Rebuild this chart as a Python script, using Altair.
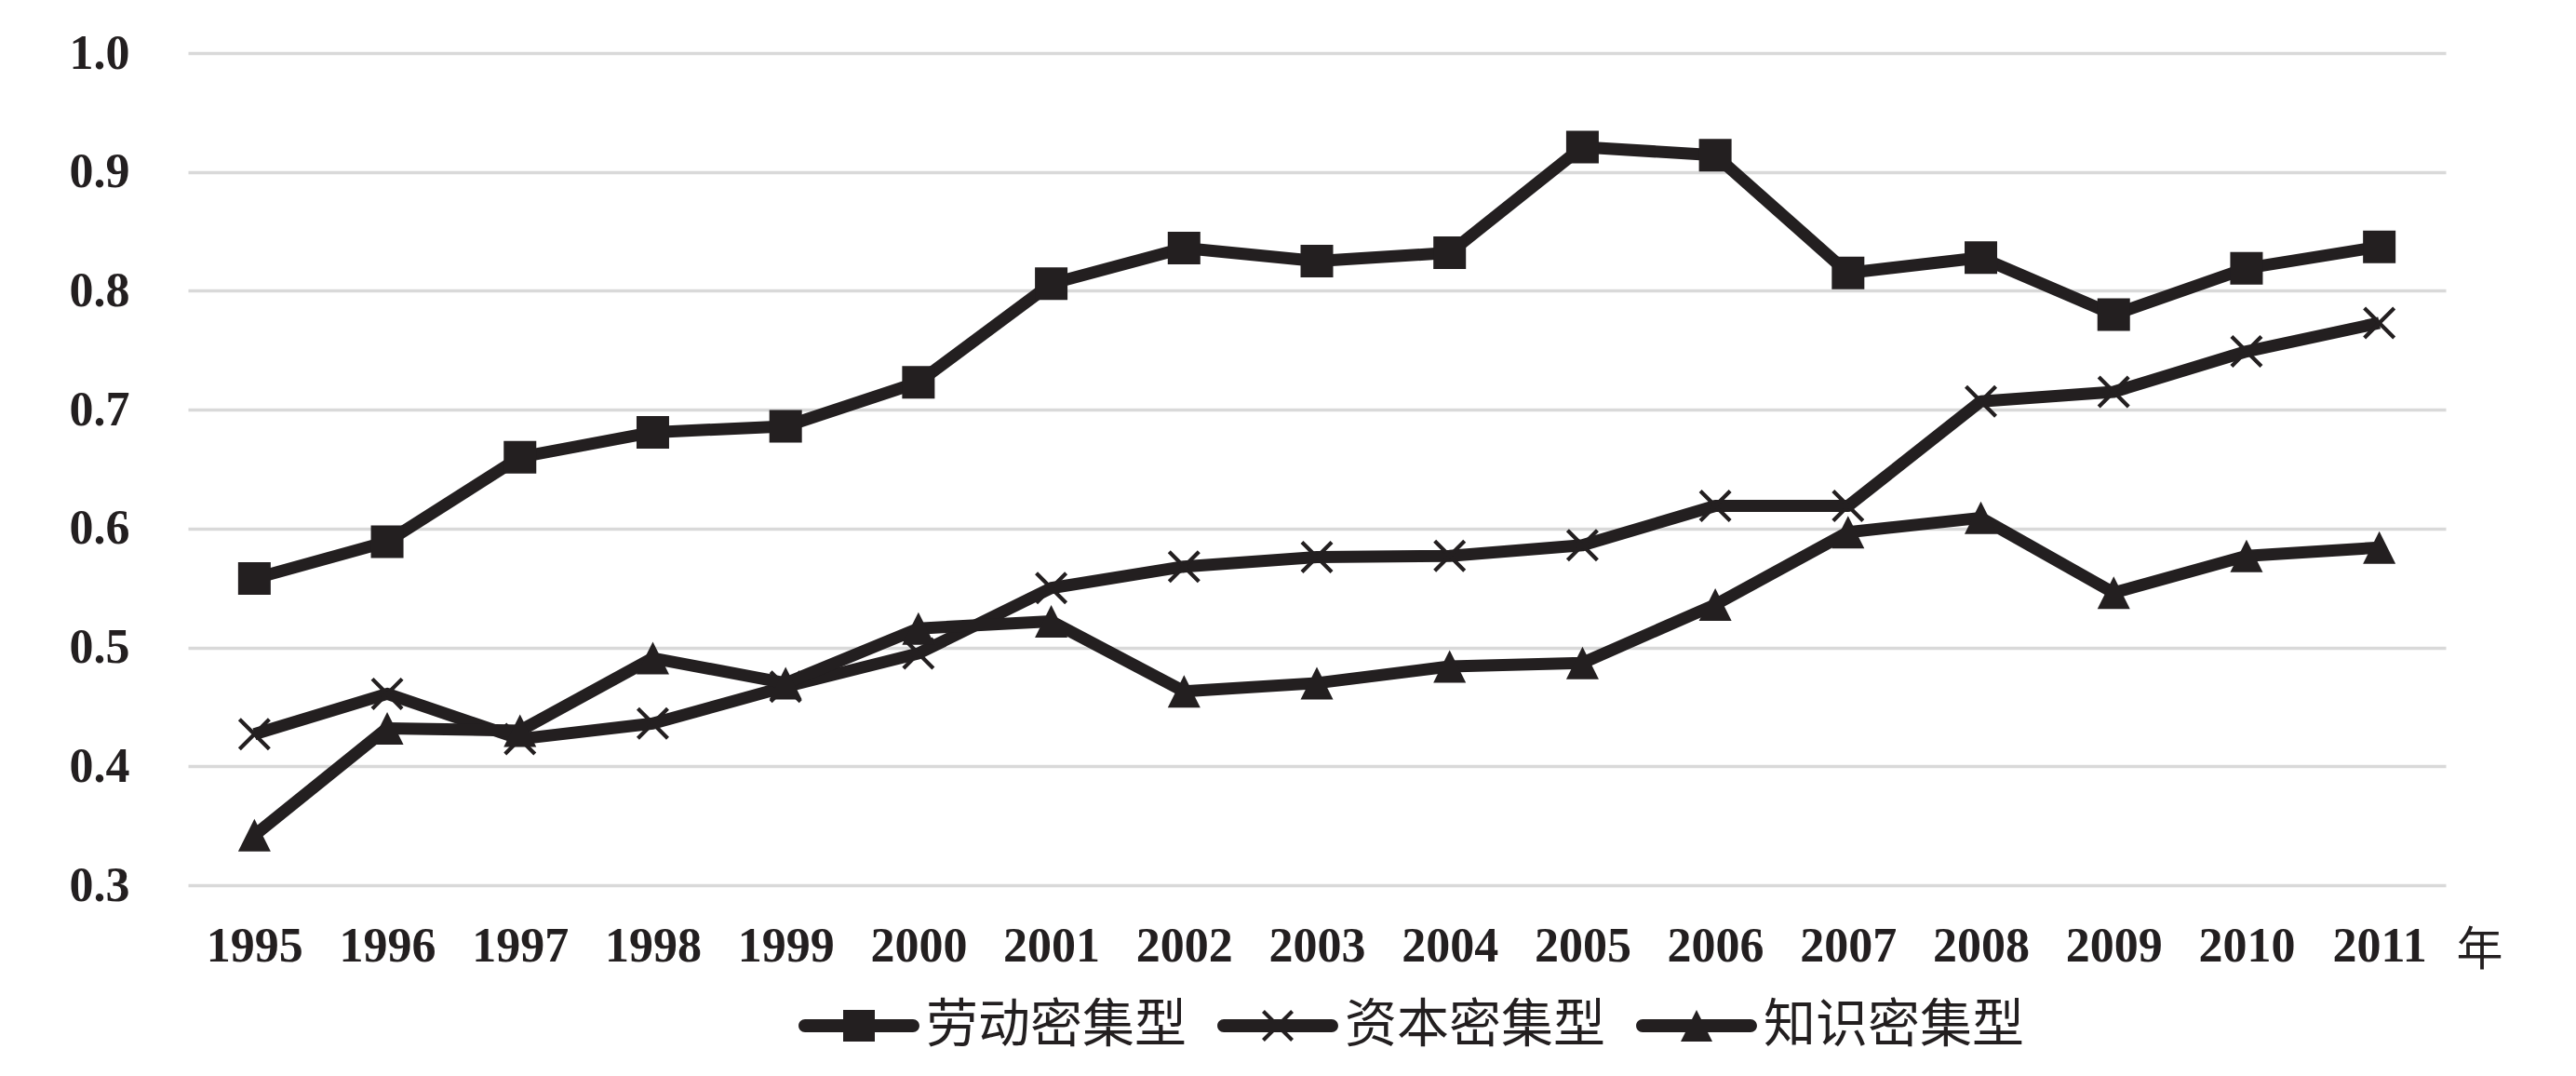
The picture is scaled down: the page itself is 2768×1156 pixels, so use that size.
import altair as alt
import pandas as pd

years = [str(y) for y in range(1995, 2012)]
series_names = ["劳动密集型", "资本密集型", "知识密集型"]
labor = [0.558, 0.589, 0.660, 0.681, 0.686, 0.723, 0.806, 0.836, 0.825, 0.832,
         0.921, 0.914, 0.815, 0.828, 0.780, 0.819, 0.837]
capital = [0.427, 0.461, 0.423, 0.436, 0.467, 0.495, 0.550, 0.568, 0.576, 0.577,
           0.586, 0.619, 0.619, 0.707, 0.715, 0.749, 0.773]
knowledge = [0.342, 0.432, 0.430, 0.491, 0.470, 0.516, 0.522, 0.463, 0.470, 0.484,
             0.487, 0.536, 0.597, 0.609, 0.546, 0.577, 0.584]
y_ticks = [0.3, 0.4, 0.5, 0.6, 0.7, 0.8, 0.9, 1.0]

rows = []
for name, vals in zip(series_names, [labor, capital, knowledge]):
    for yr, v in zip(years, vals):
        rows.append({"year": yr, "value": v, "series": name})
df = pd.DataFrame(rows)

INK = "#231f20"
NUM_FONT = "Liberation Serif"
CJK_FONT = "Noto Sans CJK SC"

# marker shapes (unit square coordinates)
SQ = "M-1,-1H1V1H-1Z"
XM = ("M-0.83,-1L0,-0.17L0.83,-1L1,-0.83L0.17,0L1,0.83L0.83,1L0,0.17"
      "L-0.83,1L-1,0.83L-0.17,0L-1,-0.83Z")
TRI = "M0,-1L1,1H-1Z"
LINE = ("M-3.41,-0.41H3.41A0.41,0.41,0,0,1,3.41,0.41H-3.41"
        "A0.41,0.41,0,0,1,-3.41,-0.41Z")

W, H = 2426, 894

x_enc = alt.X(
    "year:O",
    sort=years,
    scale=alt.Scale(type="point", padding=0.5),
    axis=alt.Axis(
        title="年",
        titleFont=CJK_FONT,
        titleFontSize=50,
        titleFontWeight="normal",
        titleColor=INK,
        titleAngle=0,
        titleAlign="center",
        titleBaseline="middle",
        titleX=W + 36,
        titleY=70,
        labelFont=NUM_FONT,
        labelFontSize=52,
        labelFontWeight="bold",
        labelColor=INK,
        labelPadding=40,
        labelAngle=0,
        ticks=False,
        domain=False,
        grid=False,
    ),
)
y_enc = alt.Y(
    "value:Q",
    scale=alt.Scale(domain=[0.3, 1.0], nice=False, zero=False),
    axis=alt.Axis(
        title=None,
        values=y_ticks,
        format=".1f",
        labelFont=NUM_FONT,
        labelFontSize=52,
        labelFontWeight="bold",
        labelColor=INK,
        labelPadding=63,
        ticks=False,
        domain=False,
        grid=True,
        gridColor="#d9d9d9",
        gridWidth=3.3,
    ),
)

base = alt.Chart(df)

lines = base.mark_line(color=INK, strokeWidth=13, strokeJoin="round").encode(
    x=x_enc, y=y_enc, detail="series:N"
)

points = base.mark_point(filled=True, color=INK, opacity=1, size=1225).encode(
    x=x_enc,
    y=y_enc,
    shape=alt.Shape(
        "series:N",
        scale=alt.Scale(domain=series_names, range=[SQ, XM, TRI]),
        legend=None,
    ),
)

legend_layer = base.transform_filter("false").mark_point(
    filled=True, color=INK, opacity=1
).encode(
    x=x_enc,
    y=y_enc,
    shape=alt.Shape(
        "series:N",
        scale=alt.Scale(domain=series_names,
                        range=[LINE + SQ, LINE + XM, LINE + TRI]),
        legend=alt.Legend(
            title=None,
            orient="none",
            direction="horizontal",
            legendX=645,
            legendY=1017,
            symbolSize=1156,
            symbolFillColor=INK,
            symbolStrokeWidth=0,
            symbolOpacity=1,
            symbolOffset=48,
            labelOffset=44,
            labelFont=CJK_FONT,
            labelFontSize=56,
            labelColor=INK,
            labelLimit=1000,
            columnPadding=22,
        ),
    ),
)

chart = (
    alt.layer(lines, points, legend_layer)
    .resolve_scale(shape="independent")
    .properties(
        width=W,
        height=H,
        background="white",
        padding={"left": 194, "top": 49, "right": 120, "bottom": 190},
        autosize=alt.AutoSizeParams(type="none"),
    )
    .configure_view(stroke=None)
)

chart.save("out.html", embed_options={"renderer": "svg", "actions": False})
